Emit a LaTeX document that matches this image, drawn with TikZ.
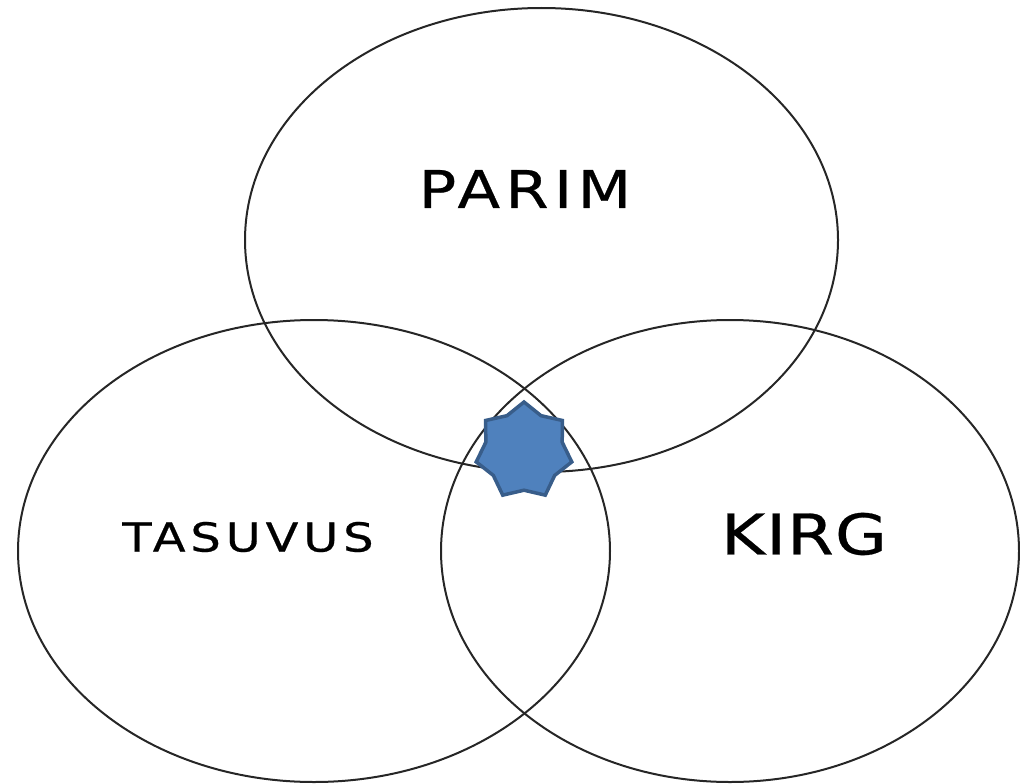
\documentclass[tikz,border=0pt]{standalone}
\usepackage{fontspec}
\setmainfont{DejaVu Sans}
\usetikzlibrary{shapes.geometric}
\definecolor{starfill}{HTML}{4F81BD}
\definecolor{starline}{HTML}{385D8A}
\tikzset{
  setring/.style={ellipse, draw=black!85, line width=2pt, inner sep=0pt, outer sep=0pt},
  setlabel/.style={inner sep=0pt, text=black},
  marker/.style={star, star points=7, star point ratio=1.25, minimum size=98pt,
                 inner sep=0pt, fill=starfill, draw=starline, line width=3.5pt}
}
\begin{document}
\begin{tikzpicture}[x=1pt, y=-1pt]
  \useasboundingbox (0,0) rectangle (1020,784);
  % three overlapping sets
  \node[setring, minimum width=593pt, minimum height=464pt] (parim) at (541.5,240) {};
  \node[setring, minimum width=592pt, minimum height=462pt] (tasuvus) at (314,551) {};
  \node[setring, minimum width=578pt, minimum height=462pt] (kirg) at (730,551) {};
  % common intersection marker
  \node[marker] (core) at (524,451) {};
  % set names
  \node[setlabel, font=\fontsize{52}{52}\selectfont\addfontfeatures{FakeStretch=1.2,FakeBold=0.5,LetterSpace=10}] (parimlabel) at (525,189) {PARIM};
  \node[setlabel, font=\fontsize{56}{56}\selectfont\addfontfeatures{FakeStretch=1.2,FakeBold=0.5,LetterSpace=2}] (kirglabel) at (804,534) {KIRG};
  \node[setlabel, font=\fontsize{40}{40}\selectfont\addfontfeatures{FakeStretch=1.2,FakeBold=0.5,LetterSpace=12}] (tasuvuslabel) at (248,537) {TASUVUS};
\end{tikzpicture}
\end{document}
